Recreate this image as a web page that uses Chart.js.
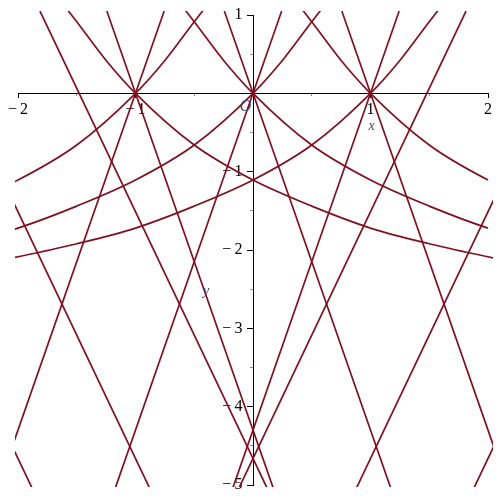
<!DOCTYPE html>
<html>
<head>
<meta charset="utf-8">
<script src="https://cdn.jsdelivr.net/npm/chart.js@4.4.0/dist/chart.umd.min.js"></script>
<style>
  html, body { margin: 0; padding: 0; background: #fff; }
  #wrap { width: 500px; height: 500px; }
</style>
</head>
<body>
<div id="wrap"><canvas id="chart"></canvas></div>
<script>
// axis ticks
const xTicks = [-2, -1, 0, 1, 2];
const yTicks = [-5, -4, -3, -2, -1, 0, 1];
const xMinorTicks = [-1.5, -0.5, 0.5, 1.5];
const yMinorTicks = [0.5, -0.5, -1.5, -2.5, -3.5, -4.5];

// the rising curve through (0,0) (t, height)
const curveT = [-3.1, -2.5, -2.0, -1.5, -1.0, -0.5, 0, 0.25, 0.5, 0.7];
const curveH = [-2.12, -1.92, -1.72, -1.44, -1.107, -0.66, 0, 0.42, 0.914, 1.3];
// where the copies of that curve cross y = 0
const risingCenters = [-1, 0, 1];
const fallingCenters = [-1, 0, 1];

// straight lines as [x1, y1, x2, y2]
const steepLines = [
  [-1.244, 1.05, 0.170, -5.03],
  [-0.756, 1.05, -2.170, -5.03],
  [-0.244, 1.05, 1.170, -5.03],
  [0.244, 1.05, -1.170, -5.03],
  [0.756, 1.05, 2.170, -5.03],
  [1.244, 1.05, -0.170, -5.03]
];
const shallowLines = [
  [-1.813, 1.05, 0.117, -5.03],
  [-2.813, 1.05, -0.883, -5.03],
  [-3.813, 1.05, -1.883, -5.03],
  [1.813, 1.05, -0.117, -5.03],
  [2.813, 1.05, 0.883, -5.03],
  [3.813, 1.05, 1.883, -5.03]
];

const plotColor = 'rgb(128,16,32)';
const serif = '"Liberation Serif", "Times New Roman", serif';
const clipPad = { left: 3, top: 4, right: 5, bottom: 2 };

function fmt(v) {
  if (v === 0) return '';
  return v < 0 ? '\u2212\u2009' + Math.abs(v) : String(v);
}

function curvePoints(center, dir) {
  const pts = curveT.map((t, i) => ({ x: center + dir * t, y: curveH[i] }));
  return dir < 0 ? pts.reverse() : pts;
}

function makeSet(points, smooth) {
  return {
    data: points,
    borderColor: plotColor,
    borderWidth: 1.7,
    pointRadius: 0,
    fill: false,
    cubicInterpolationMode: smooth ? 'monotone' : 'default',
    tension: 0,
    clip: clipPad
  };
}

const datasets = [];
risingCenters.forEach(c => datasets.push(makeSet(curvePoints(c, 1), true)));
fallingCenters.forEach(c => datasets.push(makeSet(curvePoints(c, -1), true)));
steepLines.concat(shallowLines).forEach(l => {
  datasets.push(makeSet([{ x: l[0], y: l[1] }, { x: l[2], y: l[3] }], false));
});

// O at the origin and the axis names
const axisNotes = {
  id: 'axisNotes',
  afterDraw(chart) {
    const { ctx, scales } = chart;
    const sx = scales.x, sy = scales.y;
    ctx.save();
    ctx.textAlign = 'center';
    ctx.textBaseline = 'middle';
    ctx.fillStyle = '#3a4670';
    ctx.font = 'italic 16px ' + serif;
    ctx.fillText('O', sx.getPixelForValue(-0.064), sy.getPixelForValue(-0.171));
    ctx.font = 'italic 14px ' + serif;
    ctx.fillText('x', sx.getPixelForValue(1.01), sy.getPixelForValue(-0.426));
    ctx.fillText('y', sx.getPixelForValue(-0.40), sy.getPixelForValue(-2.524));
    ctx.restore();
  }
};

function tickAxis(ticksList, pos, axis, min, max, len, color, showBorder, showText) {
  return {
    type: 'linear',
    axis: axis,
    position: pos,
    min: min,
    max: max,
    afterBuildTicks: scale => { scale.ticks = ticksList.map(v => ({ value: v })); },
    border: { display: showBorder, color: '#000', width: 1 },
    grid: { drawOnChartArea: false, drawTicks: len > 0, tickLength: len, tickColor: color, tickWidth: 1 },
    ticks: {
      autoSkip: false, maxRotation: 0, padding: showText && len > 0 ? 3 : 0, color: '#000',
      font: { family: serif, size: 16 },
      callback: v => (showText ? fmt(v) : '')
    }
  };
}

const xMin = xTicks[0], xMax = xTicks[xTicks.length - 1];
const yMin = yTicks[0], yMax = yTicks[yTicks.length - 1];

new Chart(document.getElementById('chart'), {
  type: 'line',
  data: { datasets: datasets },
  options: {
    responsive: true,
    maintainAspectRatio: false,
    animation: false,
    layout: { padding: { left: 18, right: 12, top: 15, bottom: 15 } },
    plugins: { legend: { display: false }, tooltip: { enabled: false } },
    scales: {
      // x axis: line, ticks and numbers below it
      x: tickAxis(xTicks, { y: 0 }, 'x', xMin, xMax, 4, '#000', true, true),
      // y axis: line and ticks, numbers come from yLab
      y: tickAxis(yTicks, { x: 0 }, 'y', yMin, yMax, 6, '#000', true, false),
      xMinor: tickAxis(xMinorTicks, { y: 0 }, 'x', xMin, xMax, 3, '#8a8a8a', false, false),
      yMinor: tickAxis(yMinorTicks, { x: 0 }, 'y', yMin, yMax, 3, '#8a8a8a', false, false),
      yLab: tickAxis(yTicks, { x: -0.089 }, 'y', yMin, yMax, 0, '#000', false, true)
    }
  },
  plugins: [axisNotes]
});
</script>
</body>
</html>
